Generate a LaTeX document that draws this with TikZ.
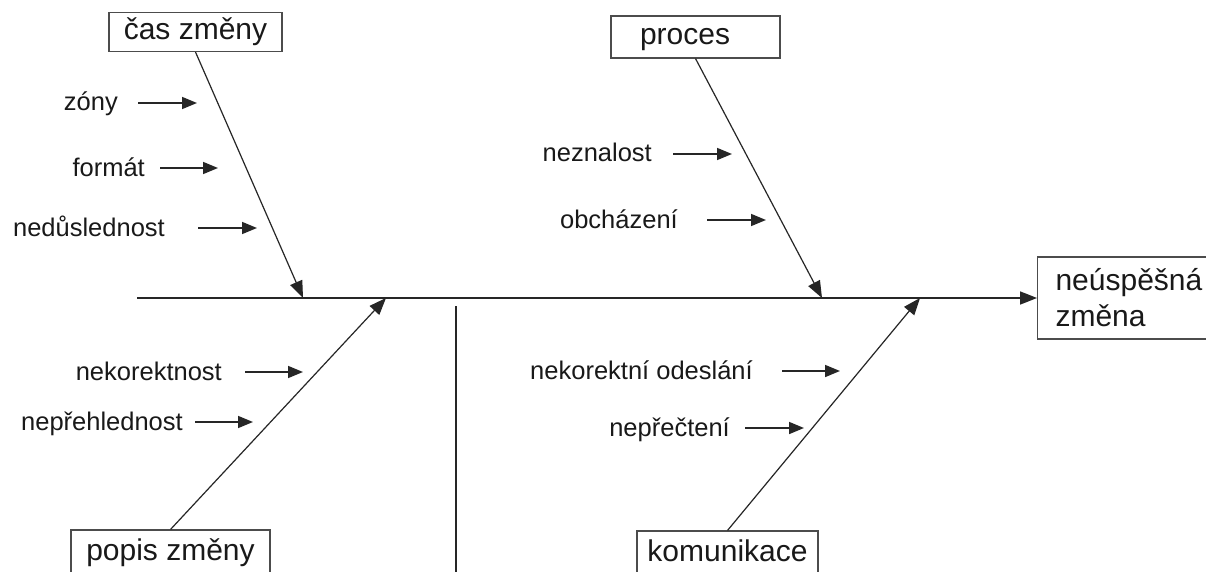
\documentclass[tikz,border=0pt]{standalone}
\usepackage{fontspec}
\setmainfont{Liberation Sans}
\usetikzlibrary{arrows.meta}
\begin{document}
\begin{tikzpicture}[x=1pt,y=-1pt,
  arr/.style={draw=black!85, line width=1.2pt, -{Triangle[length=17pt,width=13pt]}},
  sarr/.style={arr, line width=1.6pt, -{Triangle[length=15pt,width=12pt]}},
  ln/.style={draw=black!85, line width=1.2pt},
  box/.style={draw=black!70, line width=1.1pt, rectangle, inner sep=0pt,
    font=\fontsize{30}{36}\selectfont, text=black!90},
  sbox/.style={box, text height=22pt, text depth=6pt},
  lab/.style={inner sep=0pt, anchor=base east,
    font=\fontsize{25.5}{30}\selectfont, text=black!90}]
\useasboundingbox (0,0) rectangle (1206,572);
\fill[white] (0,0) rectangle (1206,572);
\clip (0,0) rectangle (1206,572);

% main boxes
\node[sbox, minimum width=173pt, minimum height=39pt] (cas) at (195.5,32) {čas změny};
\node[sbox, minimum width=169pt, minimum height=42pt, text width=111pt, align=left] (proces) at (695.5,37) {proces};
\node[sbox, minimum width=199pt, minimum height=44pt] (popis) at (170.5,552) {popis změny};
\node[sbox, minimum width=181pt, minimum height=44pt] (komun) at (727.5,553) {komunikace};
\node[box, anchor=west, text width=160pt, align=left, inner xsep=18pt, inner ysep=0pt,
      minimum height=82pt] (res) at (1037,298) {neúspěšná\\změna};

% spine
\coordinate (sp) at (137,298);
\draw[arr, line width=1.7pt] (sp) -- (res.west);

% branch end points on spine
\coordinate (c1) at (303,298);
\coordinate (c2) at (386,298);
\coordinate (c3) at (822,298);
\coordinate (c4) at (920,298);
\draw[arr] (cas.south) -- (c1);
\draw[arr] (proces.south) -- (c3);
\draw[arr] (popis.north) -- (c2);
\draw[arr] (komun.north) -- (c4);

% vertical separator
\coordinate (v1) at (456,306);
\coordinate (v2) at (456,575);
\draw[ln] (v1) -- (v2);

% sub causes
\node[lab] (zony) at (118,111) {zóny};
\coordinate (a1) at (138,103); \coordinate (b1) at (197,103);
\draw[sarr] (a1) -- (b1);

\node[lab] (format) at (145,176) {formát};
\coordinate (a2) at (160,168); \coordinate (b2) at (218,168);
\draw[sarr] (a2) -- (b2);

\node[lab] (nedus) at (165,236) {nedůslednost};
\coordinate (a3) at (198,228); \coordinate (b3) at (257,228);
\draw[sarr] (a3) -- (b3);

\node[lab] (nezn) at (652,162) {neznalost};
\coordinate (a4) at (673,154); \coordinate (b4) at (732,154);
\draw[sarr] (a4) -- (b4);

\node[lab] (obch) at (678,228) {obcházení};
\coordinate (a5) at (707,220); \coordinate (b5) at (766,220);
\draw[sarr] (a5) -- (b5);

\node[lab] (nekor) at (222,380) {nekorektnost};
\coordinate (a6) at (245,372); \coordinate (b6) at (303,372);
\draw[sarr] (a6) -- (b6);

\node[lab] (neprh) at (183,430) {nepřehlednost};
\coordinate (a7) at (195,422); \coordinate (b7) at (253,422);
\draw[sarr] (a7) -- (b7);

\node[lab] (nekod) at (753,379) {nekorektní odeslání};
\coordinate (a8) at (782,371); \coordinate (b8) at (840,371);
\draw[sarr] (a8) -- (b8);

\node[lab] (neprc) at (730,436) {nepřečtení};
\coordinate (a9) at (745,428); \coordinate (b9) at (804,428);
\draw[sarr] (a9) -- (b9);
\end{tikzpicture}
\end{document}
